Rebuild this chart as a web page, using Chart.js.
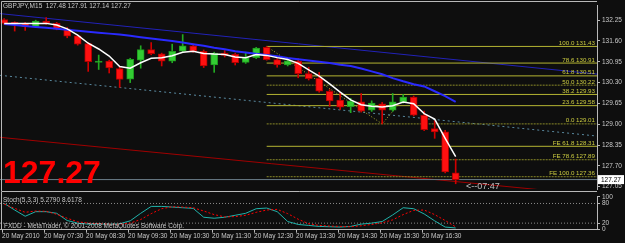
<!DOCTYPE html>
<html><head><meta charset="utf-8">
<script src="https://cdn.jsdelivr.net/npm/chart.js@4.4.1/dist/chart.umd.min.js"></script>
<style>
html,body{margin:0;padding:0;background:#0e0e0e;width:625px;height:243px;overflow:hidden;}
#wrap{position:relative;width:625px;height:243px;background:#0e0e0e;}
canvas{position:absolute;left:0;}
#main{top:0;width:625px;height:195px;}
#stoch{top:191px;width:625px;height:52px;background:#0e0e0e;}
.t{position:absolute;white-space:nowrap;font-family:"Liberation Sans",Arial,sans-serif;color:#c8c8c8;line-height:1;}
</style></head><body>
<div id="wrap">
<canvas id="main" width="625" height="195"></canvas>
<canvas id="stoch" width="625" height="52"></canvas>
<div class="t" style="left:3px;top:2.8px;font-size:6.5px;">GBPJPY,M15&nbsp; 127.48 127.91 127.14 127.27</div>
<div class="t" style="left:3px;top:156.2px;font-size:32px;font-weight:bold;color:#ff0000;">127.27</div>
<div class="t" style="left:466px;top:182.4px;font-size:9px;color:#c0c0c0;">&lt;--07:47</div>
<div class="t" style="left:3px;top:196.8px;font-size:6.5px;">Stoch(5,3,3) 5.2790 8.6178</div>
<div class="t" style="left:4px;top:223.2px;font-size:6.5px;">FXDD - MetaTrader, © 2001-2008 MetaQuotes Software Corp.</div>
</div>
<script>
// ---- data ----
const opens  = [132.27,132.17,132.15,132.05,132.22,132.15,131.98,131.76,131.52,130.93,
                130.97,130.74,130.41,131.00,131.33,131.20,130.97,131.28,131.45,131.28,
                130.85,131.22,131.18,130.93,131.08,131.40,131.02,130.85,130.97,130.58,
                130.43,130.03,129.75,129.55,129.70,129.44,129.64,129.44,129.69,129.85,
                129.28,128.86,128.76,127.48];
const highs  = [132.30,132.20,132.18,132.25,132.33,132.18,132.02,131.78,131.55,131.16,
                131.00,130.78,131.06,131.45,131.55,131.22,131.50,131.80,131.50,131.32,
                131.25,131.30,131.22,131.25,131.40,131.43,131.05,131.00,131.05,130.78,
                130.62,130.08,130.00,129.81,129.96,129.73,129.68,129.96,129.93,129.88,
                129.41,129.11,128.81,127.91];
const lows   = [132.12,131.91,131.93,132.02,132.12,131.95,131.70,131.47,130.65,130.71,
                130.60,130.15,130.30,130.75,131.17,130.82,130.92,131.25,131.25,130.77,
                130.62,131.10,130.85,130.90,131.05,131.00,130.78,130.82,130.45,130.38,
                130.00,129.56,129.46,129.36,129.38,129.40,129.01,129.40,129.66,129.26,
                128.80,128.56,127.48,127.14];
const closes = [132.15,132.15,132.05,132.22,132.15,131.97,131.75,131.50,130.95,130.97,
                130.76,130.40,131.03,131.33,131.20,130.97,131.28,131.45,131.28,130.82,
                131.22,131.15,130.92,131.08,131.38,131.02,130.85,130.98,130.58,130.42,
                130.03,129.73,129.53,129.72,129.41,129.66,129.44,129.70,129.85,129.28,
                128.83,128.76,127.51,127.27];
const maFast = [132.15,132.15,132.15,132.15,132.15,132.10,131.98,131.78,131.53,131.35,
                131.13,130.80,130.75,130.92,131.06,131.08,131.14,131.25,131.28,131.21,
                131.19,131.18,131.10,131.08,131.18,131.15,131.08,131.02,130.90,130.70,
                130.50,130.26,130.00,129.76,129.61,129.56,129.54,129.58,129.69,129.64,
                129.33,129.16,128.56,127.99];
const maSlow = [132.13,132.10,132.07,132.04,132.01,131.98,131.95,131.92,131.89,131.86,
                131.83,131.80,131.76,131.72,131.68,131.64,131.60,131.55,131.50,131.45,
                131.39,131.34,131.28,131.24,131.20,131.16,131.12,131.07,131.03,130.99,
                130.95,130.91,130.86,130.82,130.74,130.65,130.56,130.44,130.34,130.25,
                130.18,130.03,129.88,129.70];
const stochMain = [80,60,41,55,55,50,28,20,17,17,17,18,27,50,71,71,69,67,65,38,
                   35,38,44,50,64,66,55,25,16,13,10,9,8,10,17,20,25,45,67,64,
                   48,27,8,5.28];
const stochSignal = [78,65,53,57,56,47,35,24,20,18,17,17,20,31,49,64,70,69,67,57,
                     46,39,40,44,53,60,62,49,32,18,13,11,10,9,12,16,21,30,46,59,
                     60,46,28,8.62];
const trendBlue = [132.455,130.566];
const trendDot  = [130.527,128.63];
const trendRed  = [128.59,126.78];
const bidPrice  = 127.27;
const fibLevels = [131.43,130.91,130.51,130.22,129.93,129.58,129.01,128.31,127.89,127.36];
const fibNames  = ['100.0','78.6','61.8','50.0','38.2','23.6','0.0','FE 61.8','FE 78.6','FE 100.0'];
const fibStartBar = 25;
const fibPathBars = [25,36,38];
const fibPathPrices = [131.43,129.01,129.79];
const priceTicks = [132.25,131.60,130.95,130.30,129.65,129.00,128.35,127.70,127.05];
const timeLabels = ['20 May 2010','20 May 07:30','20 May 08:30','20 May 09:30','20 May 10:30','20 May 11:30',
                    '20 May 12:30','20 May 13:30','20 May 14:30','20 May 15:30','20 May 16:30'];
const timeTickBars = [0,4,8,12,16,20,24,28,32,36,40];
const stochTicks = [0,20,80,100];
const stochLevels = [80,20];

// ---- styles ----
const xMin=-0.4, xMax=56.46;
const FONT='"Liberation Sans", Arial, sans-serif';
const AX='#c8c8c8', BORDER='#b8b8b8';
const fibColors=['#b4b432','#b4b432','#b4b432','#8a8a28','#b4b432','#b4b432','#8a8a28','#b4b432','#8a8a28','#8a8a28'];
const fibDash=[[],[],[],[2,1],[],[],[2,1],[],[2,1],[2,1]];
Chart.defaults.font.family=FONT;

function line(xs, ys, color, width, dash, order){
  return {type:'line', data: xs.map((x,i)=>({x:x, y:ys[i]})), borderColor:color, borderWidth:width,
          borderDash:dash||[], pointRadius:0, fill:false, tension:0, order:order};
}
const idx = opens.map((_,i)=>i);
const up = i => closes[i] >= opens[i];

const datasets = [];
datasets.push(line([xMin,xMax], trendBlue, '#2222b8', 1, [], 30));
datasets.push(line([xMin,xMax], trendDot, '#5a8aa0', 1, [2,3], 30));
datasets.push(line([xMin,xMax], trendRed, '#a00000', 1, [], 30));
datasets.push(line([xMin,xMax], [bidPrice,bidPrice], '#6a7c88', 1, [], 29));
fibLevels.forEach((lv,k)=>datasets.push(line([fibStartBar,xMax],[lv,lv],fibColors[k],1,fibDash[k],28)));
datasets.push(line(fibPathBars, fibPathPrices, '#b4b432', 1, [1,2], 27));
datasets.push({type:'bar', grouped:false, order:12, barThickness:1,
  data: idx.map(i=>({x:i, y:[lows[i], highs[i]]})),
  backgroundColor: idx.map(i=>up(i)?'#22aa22':'#d00000'), borderWidth:0});
datasets.push({type:'bar', grouped:false, order:11, barThickness:7, minBarLength:1,
  data: idx.map(i=>({x:i, y:[opens[i], closes[i]]})),
  backgroundColor: idx.map(i=>up(i)?'#33cc33':'#ff1010'),
  borderColor: idx.map(i=>up(i)?'#1f9a1f':'#b00000'), borderWidth:1, borderSkipped:false});
datasets.push(line(idx, maSlow, '#2a2aff', 2, [], 5));
datasets.push(line(idx, maFast, '#ffffff', 1.5, [], 4));

const mainPlugin = {
  id:'mainDeco',
  afterDatasetsDraw(chart){
    const {ctx, chartArea:a, scales:{y}} = chart;
    ctx.save();
    ctx.font = '6.2px '+FONT;
    ctx.textAlign='right'; ctx.textBaseline='alphabetic';
    fibLevels.forEach((lv,k)=>{
      ctx.fillStyle='#cccc40';
      ctx.fillText(fibNames[k]+' '+lv.toFixed(2), a.right-2, y.getPixelForValue(lv)-1.5);
    });
    ctx.strokeStyle=BORDER; ctx.lineWidth=1;
    ctx.beginPath();
    ctx.moveTo(1.5, 195); ctx.lineTo(1.5, 1.5); ctx.lineTo(a.right, 1.5);
    ctx.stroke();
    ctx.restore();
  },
  afterDraw(chart){
    const {ctx, chartArea:a, scales:{y}} = chart;
    const py = y.getPixelForValue(bidPrice);
    ctx.save();
    ctx.fillStyle='#ffffff';
    ctx.fillRect(a.right+1, py-4.5, 26, 9);
    ctx.fillStyle='#000000';
    ctx.font='6.5px '+FONT; ctx.textAlign='left'; ctx.textBaseline='middle';
    ctx.fillText(bidPrice.toFixed(2), a.right+4, py+0.5);
    ctx.restore();
  }
};

new Chart(document.getElementById('main'), {
  type:'bar',
  data:{datasets:datasets},
  options:{
    responsive:false, animation:false, events:[],
    layout:{padding:{top:2,bottom:3,left:0,right:0}},
    plugins:{legend:{display:false}, tooltip:{enabled:false}},
    scales:{
      x:{type:'linear', min:xMin, max:xMax, display:false, offset:false, grid:{offset:false}},
      y:{type:'linear', position:'right', min:126.973, max:132.696,
         afterFit(s){ s.width=28; },
         afterBuildTicks(s){ s.ticks = priceTicks.map(v=>({value:v})); },
         ticks:{color:AX, font:{size:6.5}, padding:2, callback:v=>Number(v).toFixed(2)},
         grid:{drawOnChartArea:false, color:BORDER, tickLength:3},
         border:{color:BORDER}}
    }
  },
  plugins:[mainPlugin]
});

const stochPlugin = {
  id:'stochDeco',
  afterDatasetsDraw(chart){
    const {ctx, chartArea:a} = chart;
    ctx.save();
    ctx.strokeStyle=BORDER; ctx.lineWidth=1;
    ctx.beginPath();
    ctx.moveTo(1.5, a.bottom); ctx.lineTo(1.5, 0.5); ctx.lineTo(a.right, 0.5);
    ctx.stroke();
    ctx.restore();
  }
};

new Chart(document.getElementById('stoch'), {
  type:'line',
  data:{datasets:[
    line([xMin,xMax],[stochLevels[0],stochLevels[0]],'#8a8a8a',1,[1,2],10),
    line([xMin,xMax],[stochLevels[1],stochLevels[1]],'#8a8a8a',1,[1,2],10),
    line(idx, stochMain, '#20b2aa', 1, [], 6),
    line(idx, stochSignal, '#ff0000', 1, [2,2], 5)
  ]},
  options:{
    responsive:false, animation:false, events:[],
    layout:{padding:{top:1.6,bottom:0,left:0,right:0}},
    plugins:{legend:{display:false}, tooltip:{enabled:false}},
    scales:{
      x:{type:'linear', min:xMin, max:xMax, offset:false,
         afterFit(s){ s.height=13.3; },
         afterBuildTicks(s){ s.ticks = timeTickBars.map(v=>({value:v-0.2})); },
         ticks:{align:'start', maxRotation:0, minRotation:0, autoSkip:false, padding:0, color:AX,
                font:{size:6.5}, callback:(v,i)=>timeLabels[i]},
         grid:{drawOnChartArea:false, color:BORDER, tickLength:3},
         border:{color:BORDER}},
      y:{type:'linear', position:'right', min:0, max:100,
         afterFit(s){ s.width=28; },
         afterBuildTicks(s){ s.ticks = stochTicks.map(v=>({value:v})); },
         ticks:{color:AX, font:{size:6.5}, padding:2},
         grid:{drawOnChartArea:false, color:BORDER, tickLength:3},
         border:{color:BORDER}}
    }
  },
  plugins:[stochPlugin]
});
</script>
</body></html>
